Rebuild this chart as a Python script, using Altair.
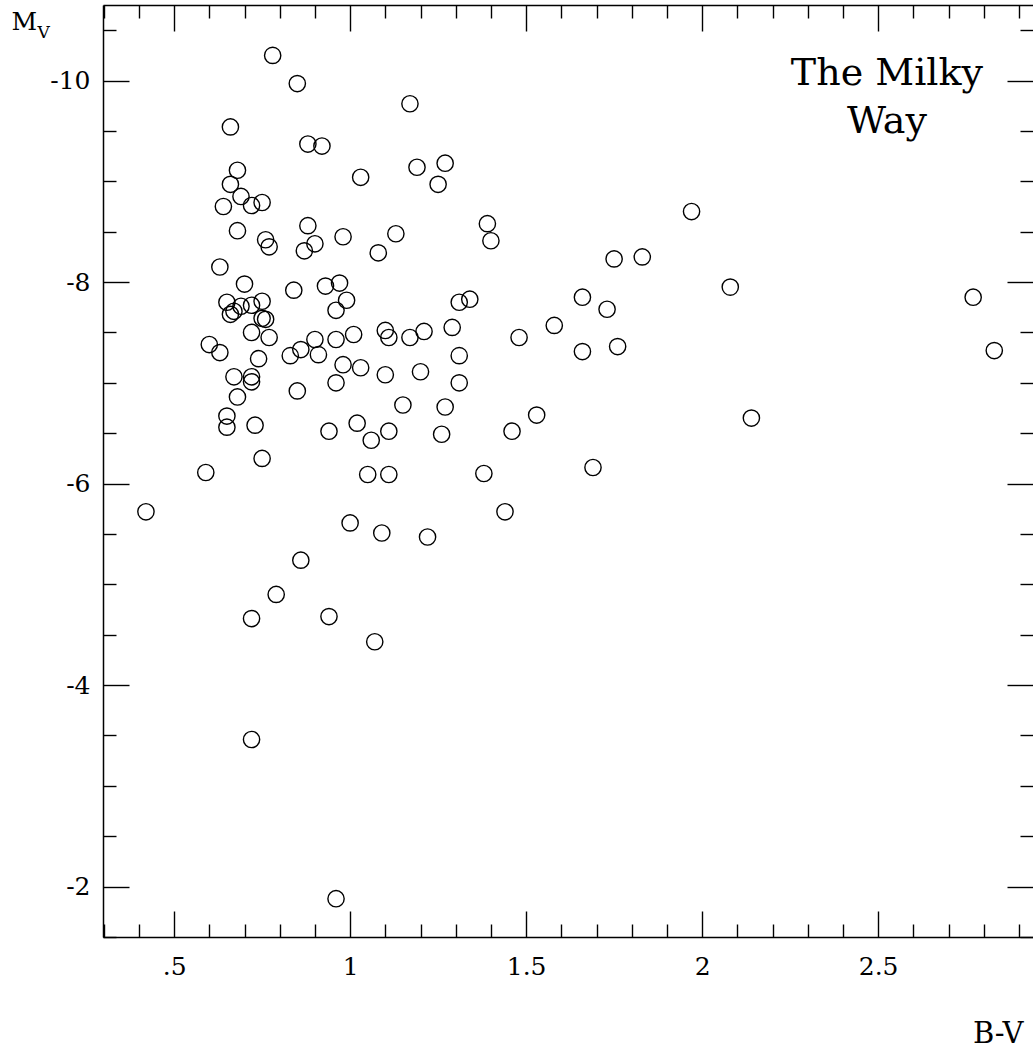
import altair as alt
import pandas as pd

# B-V colour index and absolute magnitude M_V of each star
bv = [0.78, 0.85, 0.66, 0.88, 0.92, 0.68, 1.03, 0.66, 0.69, 0.64,
      0.72, 0.75, 0.68, 0.88, 0.98, 0.90, 0.76, 0.77, 0.87, 1.08,
      1.13, 0.63, 0.70, 0.84, 0.93, 0.97, 0.99, 0.96, 0.65, 0.69,
      0.72, 0.75, 0.66, 0.67, 0.75, 0.76, 0.72, 0.77, 0.60, 0.63,
      0.74, 0.67, 0.72, 0.72, 0.68, 0.65, 0.65, 0.73, 0.75, 0.59,
      0.42, 0.83, 0.86, 0.90, 0.91, 0.96, 1.01, 1.10, 1.11, 0.98,
      1.03, 1.10, 0.96, 0.85, 1.15, 1.02, 0.94, 1.06, 1.11, 1.05,
      1.11, 1.00, 1.09, 0.86, 0.79, 0.72, 0.94, 1.07, 0.72, 0.96,
      1.17, 1.19, 1.27, 1.25, 1.39, 1.40, 1.75, 1.83, 1.97, 1.31,
      1.34, 1.66, 1.73, 1.17, 1.21, 1.29, 1.48, 1.58, 1.66, 1.76,
      1.31, 1.20, 1.31, 1.27, 1.53, 1.26, 1.46, 1.38, 1.69, 1.44,
      1.22, 2.08, 2.77, 2.83, 2.14]
mv = [-10.25, -9.97, -9.54, -9.37, -9.35, -9.11, -9.04, -8.97, -8.85, -8.75,
      -8.76, -8.79, -8.51, -8.56, -8.45, -8.38, -8.42, -8.35, -8.31, -8.29,
      -8.48, -8.15, -7.98, -7.92, -7.96, -7.99, -7.82, -7.72, -7.80, -7.76,
      -7.77, -7.81, -7.68, -7.71, -7.64, -7.63, -7.50, -7.45, -7.38, -7.30,
      -7.24, -7.06, -7.06, -7.01, -6.86, -6.67, -6.56, -6.58, -6.25, -6.11,
      -5.72, -7.27, -7.33, -7.43, -7.28, -7.43, -7.48, -7.52, -7.45, -7.18,
      -7.15, -7.08, -7.00, -6.92, -6.78, -6.60, -6.52, -6.43, -6.52, -6.09,
      -6.09, -5.61, -5.51, -5.24, -4.90, -4.66, -4.68, -4.43, -3.46, -1.88,
      -9.77, -9.14, -9.18, -8.97, -8.58, -8.41, -8.23, -8.25, -8.70, -7.80,
      -7.83, -7.85, -7.73, -7.45, -7.51, -7.55, -7.45, -7.57, -7.31, -7.36,
      -7.27, -7.11, -7.00, -6.76, -6.68, -6.49, -6.52, -6.10, -6.16, -5.72,
      -5.47, -7.95, -7.85, -7.32, -6.65]

# axis ticks
x_major = [0.5, 1.0, 1.5, 2.0, 2.5]
x_minor = [0.3, 0.4, 0.6, 0.7, 0.8, 0.9, 1.1, 1.2, 1.3, 1.4, 1.6, 1.7, 1.8,
           1.9, 2.1, 2.2, 2.3, 2.4, 2.6, 2.7, 2.8, 2.9]
y_major = [-10, -8, -6, -4, -2]
y_minor = [-10.5, -9.5, -9, -8.5, -7.5, -7, -6.5, -5.5, -5, -4.5, -3.5, -3,
           -2.5, -1.5]

annotation = ["The Milky", "Way"]
annotation_x = 2.525
annotation_y = -9.955

FONT = "DejaVu Serif"

df = pd.DataFrame({"bv": bv, "mv": mv})
ann = pd.DataFrame({"x": [annotation_x], "y": [annotation_y]})

xs = alt.Scale(domain=[0.298, 2.94], nice=False, zero=False)
ys = alt.Scale(domain=[-10.75, -1.5], nice=False, zero=False, reverse=True)


def axis(**kw):
    base = dict(grid=False, domain=False, labels=False, ticks=True,
                tickColor="black", tickWidth=1.4, title=None,
                labelFont=FONT, labelFontSize=25, labelColor="black",
                labelFlush=False, labelOverlap=False,
                domainColor="black", domainWidth=1.5)
    base.update(kw)
    return alt.Axis(**base)


points = alt.Chart(df).mark_point(
    shape="circle", filled=False, size=265, color="black",
    strokeWidth=1.4, opacity=1
).encode(
    x=alt.X("bv:Q", scale=xs, axis=axis(
        orient="bottom", values=x_major, offset=-26, tickSize=26,
        labels=True, labelPadding=17,
        labelExpr="datum.value == 0.5 ? '.5' : '' + datum.value")),
    y=alt.Y("mv:Q", scale=ys, axis=axis(
        orient="left", values=y_major, offset=-26, tickSize=26,
        labels=True, labelPadding=13,
        labelExpr="'-' + abs(datum.value)")),
)


def ghost(xax, yax):
    return alt.Chart(df).mark_point(opacity=0).encode(
        x=alt.X("bv:Q", scale=xs, axis=xax),
        y=alt.Y("mv:Q", scale=ys, axis=yax),
    )


minor_bl = ghost(
    axis(orient="bottom", values=x_minor, offset=-13, tickSize=13),
    axis(orient="left", values=y_minor, offset=-13, tickSize=13),
)
major_tr = ghost(
    axis(orient="top", values=x_major, offset=-26, tickSize=26),
    axis(orient="right", values=y_major, offset=-26, tickSize=26),
)
minor_tr = ghost(
    axis(orient="top", values=x_minor, offset=-13, tickSize=13),
    axis(orient="right", values=y_minor, offset=-13, tickSize=13),
)
frame_bl = ghost(
    axis(orient="bottom", values=x_major, ticks=False, domain=True,
         title="B-V", titleFont=FONT, titleFontSize=29,
         titleFontWeight="normal", titleColor="black", titleAngle=0,
         titleAlign="right", titleBaseline="alphabetic",
         titleX=920, titleY=105),
    axis(orient="left", values=y_major, ticks=False, domain=True,
         title="M", titleFont=FONT, titleFontSize=25,
         titleFontWeight="normal", titleColor="black", titleAngle=0,
         titleAlign="left", titleBaseline="alphabetic",
         titleX=-92, titleY=24),
)
frame_t = ghost(
    axis(orient="top", values=x_major, ticks=False, domain=True),
    axis(orient="left", values=y_major, ticks=False,
         title="V", titleFont=FONT, titleFontSize=17,
         titleFontWeight="normal", titleColor="black", titleAngle=0,
         titleAlign="left", titleBaseline="alphabetic",
         titleX=-66, titleY=32),
)

label = alt.Chart(ann).mark_text(
    text=annotation, font=FONT, fontSize=38, color="black",
    align="center", baseline="alphabetic", lineHeight=48
).encode(
    x=alt.X("x:Q", scale=xs, axis=None),
    y=alt.Y("y:Q", scale=ys, axis=None),
)

chart = alt.layer(
    points, minor_bl, major_tr, minor_tr, frame_bl, frame_t, label
).resolve_axis(
    x="independent", y="independent"
).properties(
    width=930, height=932,
    padding={"left": 103, "top": 5, "right": 0, "bottom": 115},
    autosize=alt.AutoSizeParams(type="none"),
    background="white",
).configure_view(strokeWidth=0)

chart.save("out.html", embed_options={"renderer": "svg", "actions": False})
